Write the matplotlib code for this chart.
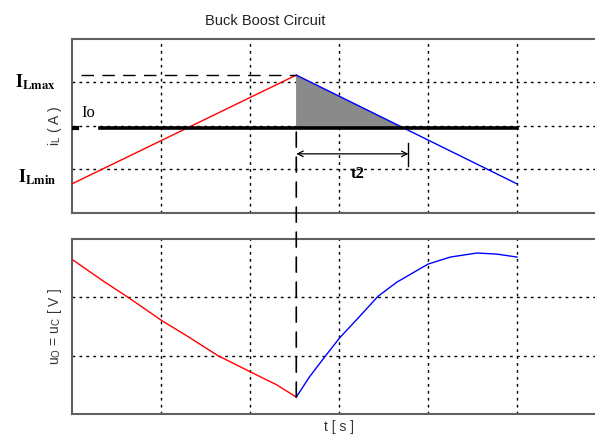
import numpy as np
import matplotlib.pyplot as plt
from matplotlib.patches import ConnectionPatch

plt.rcParams['font.family'] = ['Liberation Sans', 'DejaVu Sans']
plt.rcParams['mathtext.fontset'] = 'stix'

# inductor current (top), switching at t_sw
t_sw = 2.52
t_end = 5.0
io_level = 1.96
il_min = 0.67
il_max = 3.17
red_t = [0.0, t_sw]
red_i = [il_min, il_max]
blue_t = [t_sw, t_end]
blue_i = [il_max, il_min]

# output voltage (bottom)
red_u_t = [0.01, 0.35, 0.63, 1.01, 1.29, 1.64, 2.02, 2.30, 2.52]
red_u = [2.64, 2.28, 2.00, 1.60, 1.34, 1.00, 0.71, 0.50, 0.29]
blue_u_t = [2.52, 2.67, 2.84, 3.01, 3.20, 3.44, 3.65, 4.0, 4.25, 4.55, 4.78, 5.0]
blue_u = [0.29, 0.64, 0.98, 1.31, 1.62, 2.02, 2.26, 2.57, 2.69, 2.76, 2.74, 2.69]

W, H = 595, 438
fig = plt.figure(figsize=(W / 100, H / 100), dpi=100)


def place(left, top, right, bottom):
    return [left / W, 1 - bottom / H, (right - left) / W, (bottom - top) / H]


ax1 = fig.add_axes(place(72, 39, 606, 213))
ax2 = fig.add_axes(place(72, 239, 606, 414))

for ax, ymax in ((ax1, 4), (ax2, 3)):
    ax.set_xlim(0, 6)
    ax.set_ylim(0, ymax)
    ax.set_xticks(range(1, 6))
    ax.set_yticks(range(1, ymax))
    ax.tick_params(length=0, labelbottom=False, labelleft=False)
    ax.grid(True, color='black', linestyle=(0, (2, 3)), linewidth=1)
    for s in ax.spines.values():
        s.set_color('#606060')
        s.set_linewidth(1.5)

# top plot
ax1.fill_between(blue_t, blue_i, io_level, where=np.array(blue_i) >= io_level,
                 interpolate=True, color='#8a8a8a', zorder=3)
ax1.plot(red_t, red_i, color='red', lw=1, zorder=4)
ax1.plot(blue_t, blue_i, color='blue', lw=1, zorder=4)
ax1.plot([0.02, 0.06], [io_level, io_level], color='black', lw=3, zorder=5)
ax1.plot([0.31, t_end], [io_level, io_level], color='black', lw=2.6, zorder=5)
ax1.plot([0.1, t_sw], [il_max, il_max], color='black', lw=1,
         linestyle=(0, (9, 6)), zorder=4)

ax1.annotate('', xy=(3.78, 1.36), xytext=(t_sw, 1.36),
             arrowprops=dict(arrowstyle='<->', color='black', lw=0.9,
                             shrinkA=0, shrinkB=0), zorder=6)
ax1.plot([3.78, 3.78], [1.07, 1.61], color='black', lw=1, zorder=6)
ax1.text(3.21, 0.9, 't2', fontsize=12, fontweight='bold',
         family='Liberation Serif', ha='center', va='center')
ax1.text(0.1, 2.3, 'Io', fontsize=12, family='Liberation Serif',
         ha='left', va='center')

fig.text(35 / W, 1 - 82 / H, r'$\mathbf{I_{Lmax}}$', fontsize=13,
         ha='center', va='center')
fig.text(37 / W, 1 - 177 / H, r'$\mathbf{I_{Lmin}}$', fontsize=13,
         ha='center', va='center')

ax1.set_ylabel(r'i$_\mathregular{L}$ ( A )', fontsize=10, color='#333333',
               labelpad=6)
ax1.set_title('Buck Boost Circuit', fontsize=10.5, x=(265 - 72) / (606 - 72),
              pad=10, color='#222222')

# bottom plot
ax2.plot(red_u_t, red_u, color='red', lw=1, zorder=4)
ax2.plot(blue_u_t, blue_u, color='blue', lw=1, zorder=4)
ax2.set_ylabel(r'u$_\mathregular{O}$ = u$_\mathregular{C}$ [ V ]', fontsize=10,
               color='#333333', labelpad=6)
ax2.set_xlabel('t [ s ]', fontsize=10, color='#333333', labelpad=4)

con = ConnectionPatch(xyA=(t_sw, io_level - 0.1), coordsA=ax1.transData,
                      xyB=(t_sw, 0.29), coordsB=ax2.transData,
                      color='black', lw=1.2, linestyle=(0, (9, 6)), zorder=6)
fig.add_artist(con)

fig.savefig('out.png', dpi=100)
